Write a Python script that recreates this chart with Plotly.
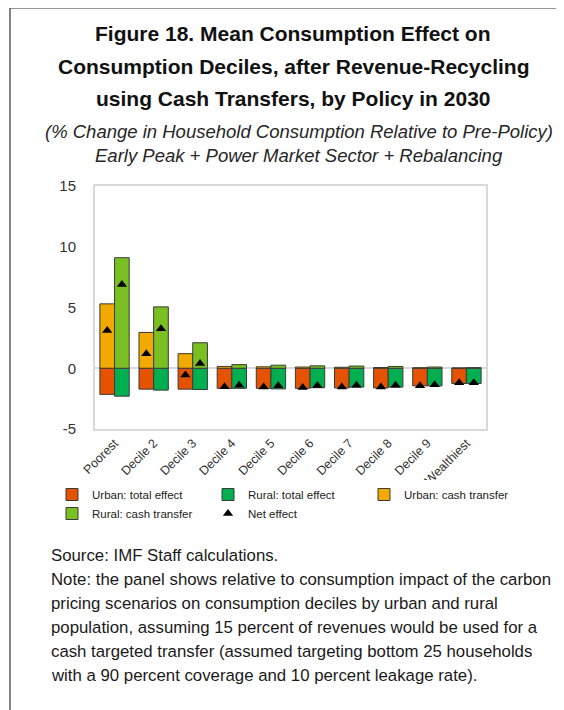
import numpy as np
import plotly.graph_objects as go

# Data (% change in household consumption)
DECILES = ["Poorest", "Decile 2", "Decile 3", "Decile 4", "Decile 5",
           "Decile 6", "Decile 7", "Decile 8", "Decile 9", "Wealthiest"]
URBAN_TOTAL = [-2.15, -1.72, -1.72, -1.65, -1.65, -1.65, -1.62, -1.62, -1.45, -1.25]
RURAL_TOTAL = [-2.30, -1.80, -1.75, -1.65, -1.70, -1.60, -1.55, -1.55, -1.45, -1.25]
URBAN_CASH = [5.30, 2.95, 1.20, 0.15, 0.12, 0.10, 0.08, 0.06, 0.04, 0.02]
RURAL_CASH = [9.10, 5.05, 2.10, 0.30, 0.25, 0.20, 0.18, 0.15, 0.10, 0.05]
URBAN_NET = [3.10, 1.20, -0.55, -1.52, -1.55, -1.58, -1.55, -1.55, -1.45, -1.20]
RURAL_NET = [6.90, 3.25, 0.40, -1.40, -1.45, -1.42, -1.40, -1.40, -1.35, -1.20]
Y_TICKS = [-5, 0, 5, 10, 15]
Y_TICKTEXT = ["-5", "0", "5", "10", "15"]

C_URB_TOT = "#E55300"
C_RUR_TOT = "#00B050"
C_URB_CASH = "#F2A900"
C_RUR_CASH = "#7AC023"
OUTLINE = "#3a3a3a"
FRAME = "#d9d9d9"
FONT = "Arial, Liberation Sans, sans-serif"

# page is 564x710; the browser's default 8px body margin offsets the figure
PAGE_W, PAGE_H, OFF = 564, 710, 8
W, H = PAGE_W - OFF, PAGE_H - OFF
L, R, T, B = 95, 486, 186, 429   # plot area in page pixels


def px_x(p):
    return (p - L) / (R - L)


def px_y(p):
    return (B - p) / (B - T)


pos = np.arange(len(DECILES))
bw = 0.375

fig = go.Figure()


def add_bar(y, name, color, offset):
    fig.add_trace(go.Bar(
        x=pos, y=y, name=name, offset=offset, width=bw,
        marker=dict(color=color, line=dict(color=OUTLINE, width=1))))


add_bar(URBAN_TOTAL, "Urban: total effect", C_URB_TOT, -bw)
add_bar(RURAL_TOTAL, "Rural: total effect", C_RUR_TOT, 0)
add_bar(URBAN_CASH, "Urban: cash transfer", C_URB_CASH, -bw)
add_bar(RURAL_CASH, "Rural: cash transfer", C_RUR_CASH, 0)

fig.add_trace(go.Scatter(
    x=np.concatenate([pos - bw / 2, pos + bw / 2]),
    y=URBAN_NET + RURAL_NET,
    mode="markers", name="Net effect",
    marker=dict(symbol="triangle-up", size=9, color="black")))

fig.update_layout(
    width=W, height=H, barmode="overlay",
    paper_bgcolor="white", plot_bgcolor="white",
    font=dict(family=FONT, color="#262626"),
    margin=dict(l=L - OFF, r=PAGE_W - R, t=T - OFF, b=PAGE_H - B),
    showlegend=True,
    legend=dict(orientation="h", x=px_x(52), y=px_y(480),
                xanchor="left", yanchor="top",
                entrywidth=111, entrywidthmode="pixels",
                font=dict(size=11.5, family=FONT, color="#222"),
                tracegroupgap=0, itemwidth=30, traceorder="normal"),
)

fig.update_xaxes(range=[-0.5, len(DECILES) - 0.5], tickvals=pos,
                 ticktext=DECILES, tickangle=-45,
                 tickfont=dict(size=12.5, color="#333"),
                 showline=True, mirror=True, linecolor=FRAME, linewidth=2,
                 showgrid=False, zeroline=False, ticks="")
fig.update_yaxes(range=[-5, 15], tickvals=Y_TICKS, ticktext=Y_TICKTEXT,
                 tickfont=dict(size=15, color="#333"),
                 showline=True, mirror=True, linecolor=FRAME, linewidth=2,
                 showgrid=False, zeroline=True, zerolinecolor=FRAME,
                 zerolinewidth=2, ticks="", ticklabelstandoff=14)

# Title and subtitles
titles = [("<b>Figure 18. Mean Consumption Effect on</b>", 33),
          ("<b>Consumption Deciles, after Revenue-Recycling</b>", 66),
          ("<b>using Cash Transfers, by Policy in 2030</b>", 98)]
for txt, yy in titles:
    fig.add_annotation(text=txt, xref="paper", yref="paper",
                       x=px_x(293), y=px_y(yy), xanchor="center", yanchor="middle",
                       showarrow=False, font=dict(size=21, color="#111"))

subs = [("<i>(% Change in Household Consumption Relative to Pre-Policy)</i>", 131),
        ("<i>Early Peak + Power Market Sector + Rebalancing</i>", 156)]
for txt, yy in subs:
    fig.add_annotation(text=txt, xref="paper", yref="paper",
                       x=px_x(299), y=px_y(yy), xanchor="center", yanchor="middle",
                       showarrow=False, font=dict(size=18.5, color="#262626"))

notes = ["Source: IMF Staff calculations.",
         "Note: the panel shows relative to consumption impact of the carbon",
         "pricing scenarios on consumption deciles by urban and rural",
         "population, assuming 15 percent of revenues would be used for a",
         "cash targeted transfer (assumed targeting bottom 25 households",
         "with a 90 percent coverage and 10 percent leakage rate)."]
for i, txt in enumerate(notes):
    fig.add_annotation(text=txt, xref="paper", yref="paper",
                       x=px_x(49), y=px_y(555 + 24 * i), xanchor="left",
                       yanchor="middle", showarrow=False,
                       font=dict(size=16.8, color="#1a1a1a"))

# Outer panel border (left and top edges only, as cropped in the source)
for x0, y0, x1, y1 in [(10, 8, 10, PAGE_H + 5), (10, 8, PAGE_W + 5, 8)]:
    fig.add_shape(type="line", xref="paper", yref="paper",
                  x0=px_x(x0), y0=px_y(y0), x1=px_x(x1), y1=px_y(y1),
                  line=dict(color="#333", width=1.2))

fig.write_html("out.html")
